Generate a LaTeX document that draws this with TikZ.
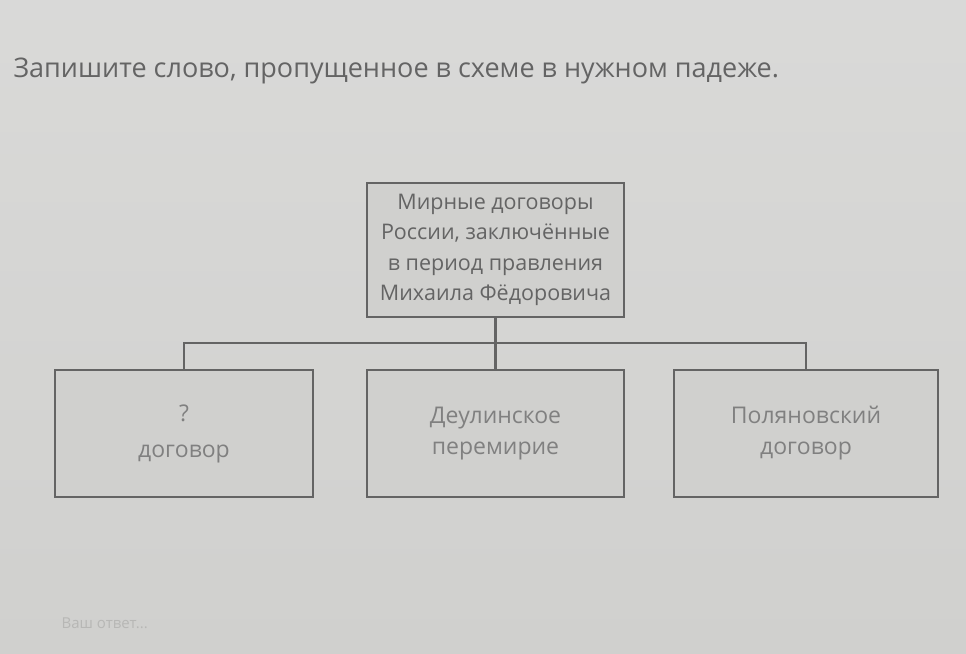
\documentclass[tikz,border=0pt]{standalone}
\usepackage{fontspec}
\setmainfont{Open Sans}
\usetikzlibrary{positioning}
\definecolor{screen}{RGB}{208,208,206}
\definecolor{frame}{RGB}{100,100,100}
\definecolor{ink}{RGB}{100,100,100}
\definecolor{pale}{RGB}{128,128,128}
\tikzset{
  box/.style={draw=frame, line width=2.6pt, fill=screen, minimum height=127pt,
    align=center, text=pale, font=\fontsize{23}{31}\selectfont, inner sep=0pt},
  head/.style={box, minimum width=257pt, minimum height=134pt, text=ink,
    font=\fontsize{21.5}{30.5}\selectfont},
  link/.style={draw=frame, line width=2.6pt}
}
\begin{document}
\begin{tikzpicture}[x=1pt,y=-1pt]
\useasboundingbox[top color=screen!80!white, bottom color=screen] (0,0) rectangle (966,653);
\node[anchor=west, text=ink, font=\fontsize{27}{32}\selectfont] (task) at (10,71)
  {Запишите слово, пропущенное в схеме в нужном падеже.};
\node[head] (top) at (495.5,250)
  {Мирные договоры\\России, заключённые\\в период правления\\Михаила Фёдоровича};
\node[box, minimum width=258pt] (left) at (184,433.5) {?\\[5pt]договор};
\node[box, minimum width=257pt] (mid) at (495.5,433.5) {Деулинское\\перемирие};
\node[box, minimum width=264pt] (right) at (806,433.5) {Поляновский\\договор};
\coordinate (bus) at (495.5,343);
\draw[link] (top.south) -- (mid.north);
\draw[link] (left.north) -- (left.north |- bus) -- (right.north |- bus) -- (right.north);
\node[anchor=west, text=screen!88!black, font=\fontsize{15}{18}\selectfont] (answer) at (58,623)
  {Ваш ответ...};
\end{tikzpicture}
\end{document}
